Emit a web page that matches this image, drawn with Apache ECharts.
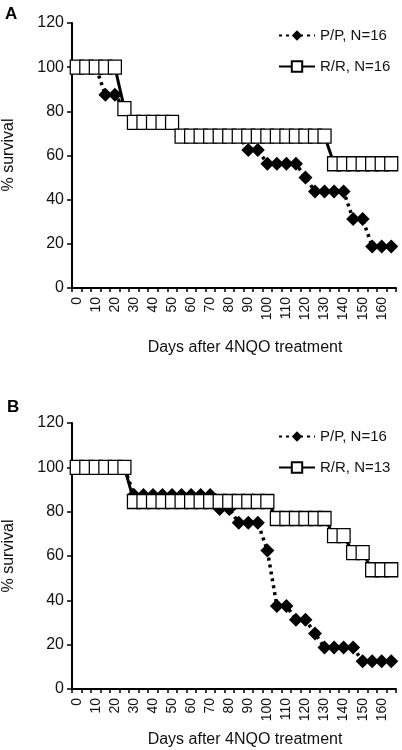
<!DOCTYPE html>
<html>
<head>
<meta charset="utf-8">
<script src="https://cdn.jsdelivr.net/npm/echarts@6/dist/echarts.min.js"></script>
<style>
html,body{margin:0;padding:0;background:#fff;}
#chart{width:402px;height:750px;}
</style>
</head>
<body>
<div id="chart"></div>
<script>
// Days after treatment (categories), every 5 days
const days = [0,5,10,15,20,25,30,35,40,45,50,55,60,65,70,75,80,85,90,95,100,105,110,115,120,125,130,135,140,145,150,155,160,165];
const yTicks = [0,20,40,60,80,100,120];

// Panel A
const ppA = [100,100,100,87.5,87.5,81.25,75,75,75,75,75,68.75,68.75,68.75,68.75,68.75,68.75,68.75,62.5,62.5,56.25,56.25,56.25,56.25,50,43.75,43.75,43.75,43.75,31.25,31.25,18.75,18.75,18.75];
const rrA = [100,100,100,100,100,81.25,75,75,75,75,75,68.75,68.75,68.75,68.75,68.75,68.75,68.75,68.75,68.75,68.75,68.75,68.75,68.75,68.75,68.75,68.75,56.25,56.25,56.25,56.25,56.25,56.25,56.25];
// Panel B
const ppB = [100,100,100,100,100,100,87.5,87.5,87.5,87.5,87.5,87.5,87.5,87.5,87.5,81.25,81.25,75,75,75,62.5,37.5,37.5,31.25,31.25,25,18.75,18.75,18.75,18.75,12.5,12.5,12.5,12.5];
const rrB = [100,100,100,100,100,100,84.6,84.6,84.6,84.6,84.6,84.6,84.6,84.6,84.6,84.6,84.6,84.6,84.6,84.6,84.6,76.9,76.9,76.9,76.9,76.9,76.9,69.2,69.2,61.5,61.5,53.8,53.8,53.8];

const namesA = ['P/P, N=16','R/R, N=16'];
const namesB = ['P/P, N=16 ','R/R, N=13'];

const FONT = 'Liberation Sans, Arial, sans-serif';
const chart = echarts.init(document.getElementById('chart'));

function xAxis(gi){
  return {
    type:'category', gridIndex:gi, data:days.map(String), boundaryGap:true,
    axisLine:{lineStyle:{color:'#000',width:2}},
    axisTick:{show:true,interval:0,length:4,lineStyle:{color:'#000',width:1.5}},
    axisLabel:{interval:1,rotate:90,margin:9,color:'#111',fontSize:14,fontFamily:FONT}
  };
}
function yAxis(gi){
  return {
    type:'value', gridIndex:gi, min:yTicks[0], max:yTicks[yTicks.length-1], interval:yTicks[1]-yTicks[0],
    splitLine:{show:false},
    axisLine:{show:true,lineStyle:{color:'#000',width:2}},
    axisTick:{show:true,length:5,lineStyle:{color:'#000',width:1.5}},
    axisLabel:{margin:8,color:'#111',fontSize:16,fontFamily:FONT}
  };
}
function pp(name,data,idx){
  return {name:name,type:'line',xAxisIndex:idx,yAxisIndex:idx,data:data,
    symbol:'diamond',symbolSize:14,showAllSymbol:true,
    itemStyle:{color:'#000',borderWidth:0},
    lineStyle:{color:'#000',width:3.5,type:[3,4]},
    z:2};
}
function rr(name,data,idx){
  return {name:name,type:'line',xAxisIndex:idx,yAxisIndex:idx,data:data,
    symbol:'rect',symbolSize:[13,14],showAllSymbol:true,
    itemStyle:{color:'#fff',borderColor:'#000',borderWidth:1.3},
    lineStyle:{color:'#000',width:3},
    z:3};
}
function legend(names,top){
  return {orient:'vertical',left:273,top:top,itemGap:16,itemWidth:36,itemHeight:13,
    data:names,textStyle:{fontSize:15,fontFamily:FONT,color:'#111'},selectedMode:false};
}

chart.setOption({
  animation:false,
  backgroundColor:'#fff',
  grid:[
    {left:72,right:6,top:23,height:265},
    {left:72,right:6,top:423,height:266}
  ],
  xAxis:[xAxis(0),xAxis(1)],
  yAxis:[yAxis(0),yAxis(1)],
  legend:[legend(namesA,23),legend(namesB,424)],
  series:[pp(namesA[0],ppA,0),rr(namesA[1],rrA,0),pp(namesB[0],ppB,1),rr(namesB[1],rrB,1)],
  graphic:[
    {type:'text',left:5,top:6,style:{text:'A',font:'bold 17px '+FONT,fill:'#000'}},
    {type:'text',left:7,top:399,style:{text:'B',font:'bold 17px '+FONT,fill:'#000'}},
    {type:'text',x:9,y:155,rotation:Math.PI/2,style:{text:'% survival',font:'16px '+FONT,fill:'#111',align:'center',verticalAlign:'middle'}},
    {type:'text',x:9,y:556,rotation:Math.PI/2,style:{text:'% survival',font:'16px '+FONT,fill:'#111',align:'center',verticalAlign:'middle'}},
    {type:'text',x:245,y:348,style:{text:'Days after 4NQO treatment',font:'16px '+FONT,fill:'#111',align:'center',verticalAlign:'middle'}},
    {type:'text',x:245,y:740,style:{text:'Days after 4NQO treatment',font:'16px '+FONT,fill:'#111',align:'center',verticalAlign:'middle'}}
  ]
});
</script>
</body>
</html>
